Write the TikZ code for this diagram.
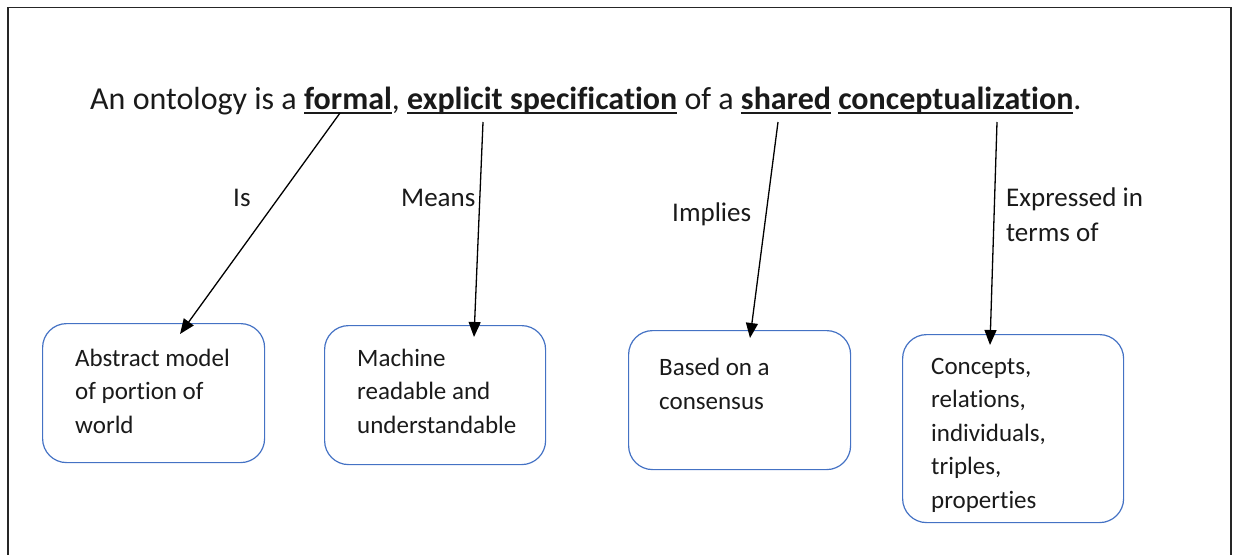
\documentclass[tikz,border=0pt]{standalone}
\usepackage{fontspec}
\setmainfont[Ligatures={NoCommon}]{Carlito}
\usetikzlibrary{arrows.meta}
\definecolor{boxblue}{HTML}{4472C4}
\definecolor{framegray}{HTML}{262626}
\definecolor{ink}{HTML}{1A1A1A}
\newsavebox\ulbox
\newcommand{\ulw}[1]{\sbox\ulbox{#1}\rlap{\rule[-4.5pt]{\wd\ulbox}{1.3pt}}\usebox\ulbox}
\begin{document}
\begin{tikzpicture}[x=1pt,y=-1pt, every node/.style={text=ink},
  concept/.style={draw=boxblue, line width=1.2pt, rounded corners=24pt, anchor=north west, inner sep=0pt},
  boxtext/.style={anchor=base west, align=left, inner sep=0pt, font=\fontsize{25}{33.5}\selectfont},
  lbl/.style={anchor=base west, align=left, inner sep=0pt, font=\fontsize{27}{35}\selectfont},
  arr/.style={line width=1.3pt, -{Triangle[length=15pt,width=12pt]}}]
\useasboundingbox (0,0) rectangle (1238,554);
\draw[framegray, line width=1.4pt] (8,560) -- (8,7.5) -- (1231,7.5) -- (1231,560);
\node[anchor=base west, inner sep=0pt, font=\fontsize{32}{38}\selectfont] (sent) at (90,109)
  {An ontology is a \ulw{\textbf{formal}}, \ulw{\textbf{explicit specification}} of a \ulw{\textbf{shared}} \ulw{\textbf{conceptualization}}.};
\coordinate (s1) at (340,113);
\coordinate (s2) at (483,122);
\coordinate (s3) at (778,122);
\coordinate (s4) at (997,122);
\node[concept, minimum width=222pt, minimum height=139pt] (b1) at (42,323) {};
\node[concept, minimum width=221pt, minimum height=139pt] (b2) at (324,325) {};
\node[concept, minimum width=222pt, minimum height=139pt] (b3) at (628,330) {};
\node[concept, minimum width=221pt, minimum height=188pt] (b4) at (902,334) {};
\node[boxtext] (t1) at (75,433) {Abstract model\\of portion of\\world};
\node[boxtext] (t2) at (357,433) {Machine\\readable and\\understandable};
\node[boxtext] (t3) at (659,409) {Based on a\\consensus};
\node[boxtext] (t4) at (931,508) {Concepts,\\relations,\\individuals,\\triples,\\properties};
\node[lbl] (l1) at (233,206) {Is};
\node[lbl] (l2) at (401,206) {Means};
\node[lbl] (l3) at (672,221) {Implies};
\node[lbl] (l4) at (1006,241) {Expressed in\\terms of};
\draw[arr] (s1) -- ([xshift=138pt,yshift=-11pt]b1.north west);
\draw[arr] (s2) -- ([xshift=150pt,yshift=-12pt]b2.north west);
\draw[arr] (s3) -- ([xshift=122pt,yshift=-8pt]b3.north west);
\draw[arr] (s4) -- ([xshift=88pt,yshift=-11pt]b4.north west);
\end{tikzpicture}
\end{document}
